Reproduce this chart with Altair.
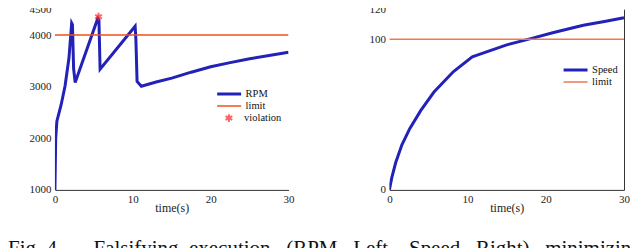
import altair as alt
import pandas as pd

# Left panel: engine speed (RPM)
rpm_t = [0, 0.1, 0.25, 0.8, 1.3, 1.8, 2.15, 2.25, 2.4, 2.6, 5.5, 5.65, 5.8, 10.3, 10.4,
         10.55, 11.1, 13, 15, 17.5, 20, 22.5, 25, 27.5, 30]
rpm_v = [1000, 2000, 2330, 2650, 3013, 3550, 4230, 4200, 3350, 3080, 4320, 4290, 3340, 4170, 3900,
         3100, 3008, 3090, 3164, 3280, 3384, 3465, 3540, 3605, 3666]
rpm_limit = 4000
violation_t = [5.6]
violation_v = [4355]

# Right panel: vehicle speed
spd_t = [0, 0.3, 0.8, 1.6, 2.6, 4.0, 5.7, 8.2, 10.6, 11.5, 15, 18.2, 21, 24.8, 27.5, 30]
spd_v = [0, 8, 18, 30, 40.7, 52.6, 65, 78.6, 88.3, 90, 96.3, 100.6, 104.5, 109.3, 111.8, 114.3]
spd_limit = 100

x_ticks = [0, 5, 10, 15, 20, 25, 30]
rpm_ticks = [1000, 2000, 3000, 4000, 4500]
spd_ticks = [0, 100, 120]

NB = "\u00a0"
caption = ("Fig." + NB * 1 + "4." + NB * 6 + "Falsifying" + NB * 2 + "execution" + NB * 3 + "(RPM"
           + NB * 3 + "Left," + NB * 3 + "Speed" + NB * 3 + "Right)" + NB * 3 + "minimizing")

SERIF = "Liberation Serif"
BLUE = "#2222b8"

left_df = pd.DataFrame(
    {"t": rpm_t + [0, 30], "v": rpm_v + [rpm_limit, rpm_limit],
     "s": ["RPM"] * len(rpm_t) + ["limit", "limit"], "o": list(range(len(rpm_t))) + [0, 1]}
)
viol_df = pd.DataFrame({"t": violation_t, "v": violation_v, "s": ["violation"]})
right_df = pd.DataFrame(
    {"t": spd_t + [0, 30], "v": spd_v + [spd_limit, spd_limit],
     "s": ["Speed"] * len(spd_t) + ["limit", "limit"], "o": list(range(len(spd_t))) + [0, 1]}
)

xaxis = alt.Axis(values=x_ticks, title="time(s)", grid=False, ticks=False, labelPadding=4,
                 titlePadding=-2, domainColor="#333", labelFlush=False, format="d",
                 labelFont=SERIF, labelFontSize=11, titleFont=SERIF, titleFontSize=12,
                 titleFontWeight="normal", labelColor="#222", titleColor="#222")

ASTERISK = "M0,-1L0,1M-0.87,-0.5L0.87,0.5M-0.87,0.5L0.87,-0.5"


def lines_layer(df, ymin, ymax, yticks, names, colors, lx, ly):
    leg = alt.Legend(orient="none", legendX=lx, legendY=ly, title=None, symbolType="stroke",
                     symbolSize=576, labelFont=SERIF, labelFontSize=10.5, labelOffset=3,
                     rowPadding=0, padding=0, clipHeight=12, labelColor="#111")
    return alt.Chart(df).mark_line(clip=True).encode(
        x=alt.X("t:Q", scale=alt.Scale(domain=[0, 30], nice=False), axis=xaxis),
        y=alt.Y("v:Q", scale=alt.Scale(domain=[ymin, ymax], nice=False),
                axis=alt.Axis(values=yticks, title=None, grid=False, ticks=False, domain=False,
                              labelPadding=4, format="d", labelFont=SERIF, labelFontSize=11,
                              labelColor="#222")),
        color=alt.Color("s:N", scale=alt.Scale(domain=names, range=colors), legend=leg),
        strokeWidth=alt.StrokeWidth("s:N", scale=alt.Scale(domain=names, range=[3, 1.5]), legend=leg),
        order="o:Q",
        detail="s:N",
    )


left_lines = lines_layer(left_df, 1000, 4500, rpm_ticks, ["RPM", "limit"], [BLUE, "#f0501a"], 161, 79)
left_pts = alt.Chart(viol_df).mark_point(filled=False, strokeWidth=2, size=60).encode(
    x="t:Q", y="v:Q",
    shape=alt.Shape("s:N", scale=alt.Scale(domain=["violation"], range=[ASTERISK]),
                    legend=alt.Legend(orient="none", legendX=169, legendY=103, title=None,
                                      labelFont=SERIF, labelFontSize=10.5, labelOffset=10,
                                      symbolStrokeColor="#ff2020", symbolStrokeWidth=2,
                                      symbolSize=60, padding=0, clipHeight=12, labelColor="#111")),
    stroke=alt.value("#ff2020"),
)
left = alt.layer(left_lines, left_pts).properties(width=234, height=181)

right_lines = lines_layer(right_df, 0, 120, spd_ticks, ["Speed", "limit"], [BLUE, "#ec7a50"], 173, 55)
right_box = alt.Chart(right_df).mark_line(opacity=0).encode(
    x="t:Q",
    y=alt.Y("v:Q", axis=alt.Axis(orient="right", labels=False, ticks=False, title=None,
                                 domainColor="#333", grid=False)),
)
right = alt.layer(right_lines, right_box).resolve_axis(y="independent").properties(width=235, height=181)

chart = alt.hconcat(left, right, spacing=74).resolve_scale(
    color="independent", strokeWidth="independent", shape="independent"
).resolve_legend(color="independent", strokeWidth="independent", shape="independent").properties(
    padding={"left": 0, "top": -5, "right": -11, "bottom": -6},
    title=alt.TitleParams(caption, orient="bottom", anchor="start", font=SERIF, fontSize=21,
                          fontWeight="normal", color="#111", offset=24, dx=-21),
).configure_view(stroke=None)

chart.save("out.html", embed_options={"renderer": "svg", "actions": False})
